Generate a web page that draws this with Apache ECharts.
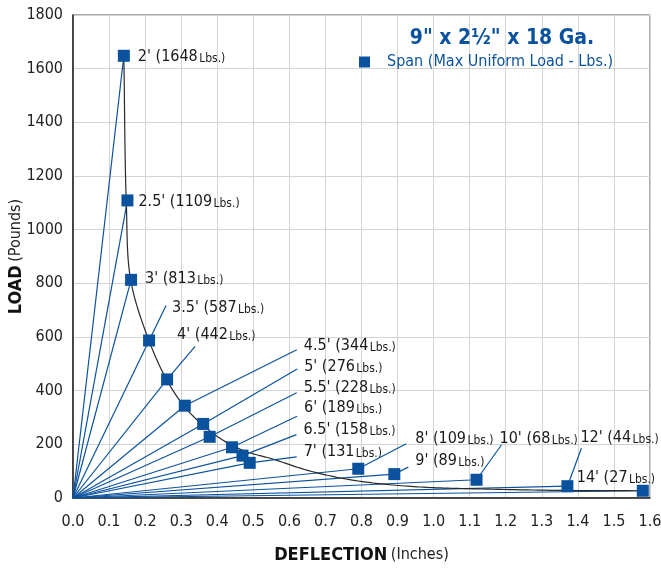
<!DOCTYPE html>
<html>
<head>
<meta charset="utf-8">
<script src="https://cdn.jsdelivr.net/npm/echarts@6/dist/echarts.min.js"></script>
<style>
html,body{margin:0;padding:0;background:#fff;}
#chart{width:661px;height:569px;}
</style>
</head>
<body>
<div id="chart"></div>
<script>
// ---- data ----
var spans = ["2'", "2.5'", "3'", "3.5'", "4'", "4.5'", "5'", "5.5'", "6'", "6.5'", "7'", "8'", "9'", "10'", "12'", "14'"];
var loads = [1648, 1109, 813, 587, 442, 344, 276, 228, 189, 158, 131, 109, 89, 68, 44, 27];
var deflections = [0.141, 0.151, 0.161, 0.211, 0.261, 0.310, 0.361, 0.379, 0.441, 0.470, 0.490, 0.791, 0.891, 1.119, 1.371, 1.580];
// black trend curve
var curveX = [0.141, 0.1476, 0.160, 0.210, 0.260, 0.310, 0.360, 0.415, 0.476, 0.554, 0.648, 0.740, 0.832, 0.962, 1.120, 1.370, 1.580];
var curveY = [1648, 1110, 812, 589, 440, 339, 272, 216, 175, 145, 104, 75, 56, 41, 34, 28, 27];
var xTicks = ["0.0","0.1","0.2","0.3","0.4","0.5","0.6","0.7","0.8","0.9","1.0","1.1","1.2","1.3","1.4","1.5","1.6"];
var yTicks = [0, 200, 400, 600, 800, 1000, 1200, 1400, 1600, 1800];
var titleText = '9" x 2\u00BD" x 18 Ga.';
var legendText = 'Span (Max Uniform Load - Lbs.)';

// ---- layout (pixel offsets of labels/leaders relative to each point) ----
var labelLayout = [
  {t:[14,0]}, {t:[11,0]}, {t:[14,-2]},
  {l:[17,-35], t:[23,-34]},
  {l:[28,-33], t:[10,-46]},
  {l:[112,-56], t:[119,-61]},
  {l:[94,-55], t:[101,-58]},
  {l:[87,-44], t:[94,-50]},
  {l:[65,-31], t:[72,-40]},
  {l:[54,-21], t:[61,-27]},
  {l:[47,-6], t:[54,-12]},
  {l:[48,-25], t:[57,-31]},
  {l:[14,-7], t:[21,-14]},
  {l:[25,-35], t:[23,-42]},
  {l:[14,-38], t:[13,-49]},
  {t:[-66,-14]}
];

var FONT = "'Liberation Sans Narrow','DejaVu Sans Condensed','Roboto Condensed',Roboto,sans-serif";
var BLUE = '#0b529e';

var points = deflections.map(function(d,i){ return [d, loads[i]]; });
var rays = points.map(function(p){ return {coords: [[0,0], p]}; });
var curvePts = curveX.map(function(x,i){ return [x, curveY[i]]; });

function catmull(pts, steps) {
  // centripetal Catmull-Rom through pixel points
  var out = [];
  function d(a,b){ return Math.pow(Math.hypot(b[0]-a[0], b[1]-a[1]), 0.5) || 1e-6; }
  for (var i = 0; i < pts.length - 1; i++) {
    var p0 = pts[i-1] || [2*pts[i][0]-pts[i+1][0], 2*pts[i][1]-pts[i+1][1]];
    var p1 = pts[i], p2 = pts[i+1];
    var p3 = pts[i+2] || [2*p2[0]-p1[0], 2*p2[1]-p1[1]];
    var t0 = 0, t1 = t0 + d(p0,p1), t2 = t1 + d(p1,p2), t3 = t2 + d(p2,p3);
    for (var s = 0; s <= steps; s++) {
      if (i > 0 && s === 0) continue;
      var t = t1 + (t2 - t1) * s / steps;
      var pt = [];
      for (var k = 0; k < 2; k++) {
        var A1 = (t1-t)/(t1-t0)*p0[k] + (t-t0)/(t1-t0)*p1[k];
        var A2 = (t2-t)/(t2-t1)*p1[k] + (t-t1)/(t2-t1)*p2[k];
        var A3 = (t3-t)/(t3-t2)*p2[k] + (t-t2)/(t3-t2)*p3[k];
        var B1 = (t2-t)/(t2-t0)*A1 + (t-t0)/(t2-t0)*A2;
        var B2 = (t3-t)/(t3-t1)*A2 + (t-t1)/(t3-t1)*A3;
        pt.push((t2-t)/(t2-t1)*B1 + (t-t1)/(t2-t1)*B2);
      }
      out.push(pt);
    }
  }
  return out;
}

var richStyle = {
  a: {fontFamily: FONT, fontSize: 16, fill: '#1a1a1a', lineHeight: 18, verticalAlign: 'bottom'},
  s: {fontSize: 5, lineHeight: 18},
  b: {fontFamily: FONT, fontSize: 12, fill: '#1a1a1a', lineHeight: 18, verticalAlign: 'bottom'}
};

var chart = echarts.init(document.getElementById('chart'), null, {renderer:'canvas'});
chart.setOption({
  animation: false,
  textStyle: {fontFamily: FONT},
  title: {
    text: titleText,
    left: 497, top: 23, textAlign: 'center',
    textStyle: {fontFamily: FONT, fontSize: 21, fontWeight: 'bold', color: BLUE}
  },
  legend: {
    left: 354, top: 49,
    icon: 'rect', itemWidth: 11, itemHeight: 11, itemGap: 10,
    data: [legendText],
    textStyle: {fontFamily: FONT, fontSize: 16, color: BLUE, padding: [0,0,0,12]}
  },
  grid: {left: 73, top: 15, right: 11, bottom: 71, containLabel: false, outerBoundsMode: 'none',
    show: true, borderColor: '#555', borderWidth: 1},
  xAxis: {
    type: 'value', min: 0, max: 1.6, interval: 0.1,
    axisLine: {show: true, onZero: false, lineStyle: {color: '#222', width: 1.5}},
    axisTick: {show: false},
    axisLabel: {margin: 16, fontSize: 16, color: '#222', fontFamily: FONT,
      formatter: function(v){ return xTicks[Math.round(v*10)]; }},
    splitLine: {show: true, lineStyle: {color: '#d4d4d4', width: 1}},
    name: '{b|DEFLECTION} {n|(Inches)}',
    nameLocation: 'middle', nameGap: 48, nameMoveOverlap: false,
    nameTextStyle: {rich: {
      b: {fontFamily: FONT, fontSize: 18, fontWeight: 'bold', color: '#111'},
      n: {fontFamily: FONT, fontSize: 16, color: '#222'}
    }}
  },
  yAxis: {
    type: 'value', min: 0, max: 1800, interval: 200,
    axisLine: {show: true, onZero: false, lineStyle: {color: '#222', width: 1.5}},
    axisTick: {show: false},
    axisLabel: {margin: 10, fontSize: 16, color: '#222', fontFamily: FONT,
      formatter: function(v){ return String(yTicks[Math.round(v/200)]); }},
    splitLine: {show: true, lineStyle: {color: '#d4d4d4', width: 1}},
    name: '{b|LOAD} {n|(Pounds)}',
    nameLocation: 'middle', nameGap: 48, nameRotate: 90, nameMoveOverlap: false,
    nameTextStyle: {rich: {
      b: {fontFamily: FONT, fontSize: 18, fontWeight: 'bold', color: '#111'},
      n: {fontFamily: FONT, fontSize: 16, color: '#222'}
    }}
  },
  series: [
    {
      type: 'lines', coordinateSystem: 'cartesian2d', z: 2,
      silent: true,
      lineStyle: {color: BLUE, width: 1.2, opacity: 1},
      data: rays
    },
    {
      type: 'custom', z: 3, data: [[0, 0]], silent: true,
      renderItem: function(params, api){
        var px = curvePts.map(function(p){ return api.coord(p); });
        return {type: 'polyline', shape: {points: catmull(px, 16)},
          style: {stroke: '#2a2a2a', lineWidth: 1.2, fill: null}};
      }
    },
    {
      type: 'custom', z: 4, data: points, silent: true,
      renderItem: function(params, api){
        var i = params.dataIndex;
        var p = api.coord([api.value(0), api.value(1)]);
        var lay = labelLayout[i];
        var children = [];
        if (lay.l) {
          children.push({type:'line', shape:{x1:p[0], y1:p[1], x2:p[0]+lay.l[0], y2:p[1]+lay.l[1]},
            style:{stroke: BLUE, lineWidth: 1.2}});
        }
        children.push({type:'text', x: p[0]+lay.t[0], y: p[1]+lay.t[1],
          style:{
            text: '{a|' + spans[i] + ' (' + loads[i] + '}{s| }{b|Lbs.)}',
            rich: richStyle,
            align: 'left', verticalAlign: 'middle'
          }});
        return {type:'group', children: children};
      }
    },
    {
      name: legendText,
      type: 'scatter', z: 5, data: points,
      symbol: 'rect', symbolSize: 12,
      itemStyle: {color: BLUE, opacity: 1}
    }
  ]
});
</script>
</body>
</html>
